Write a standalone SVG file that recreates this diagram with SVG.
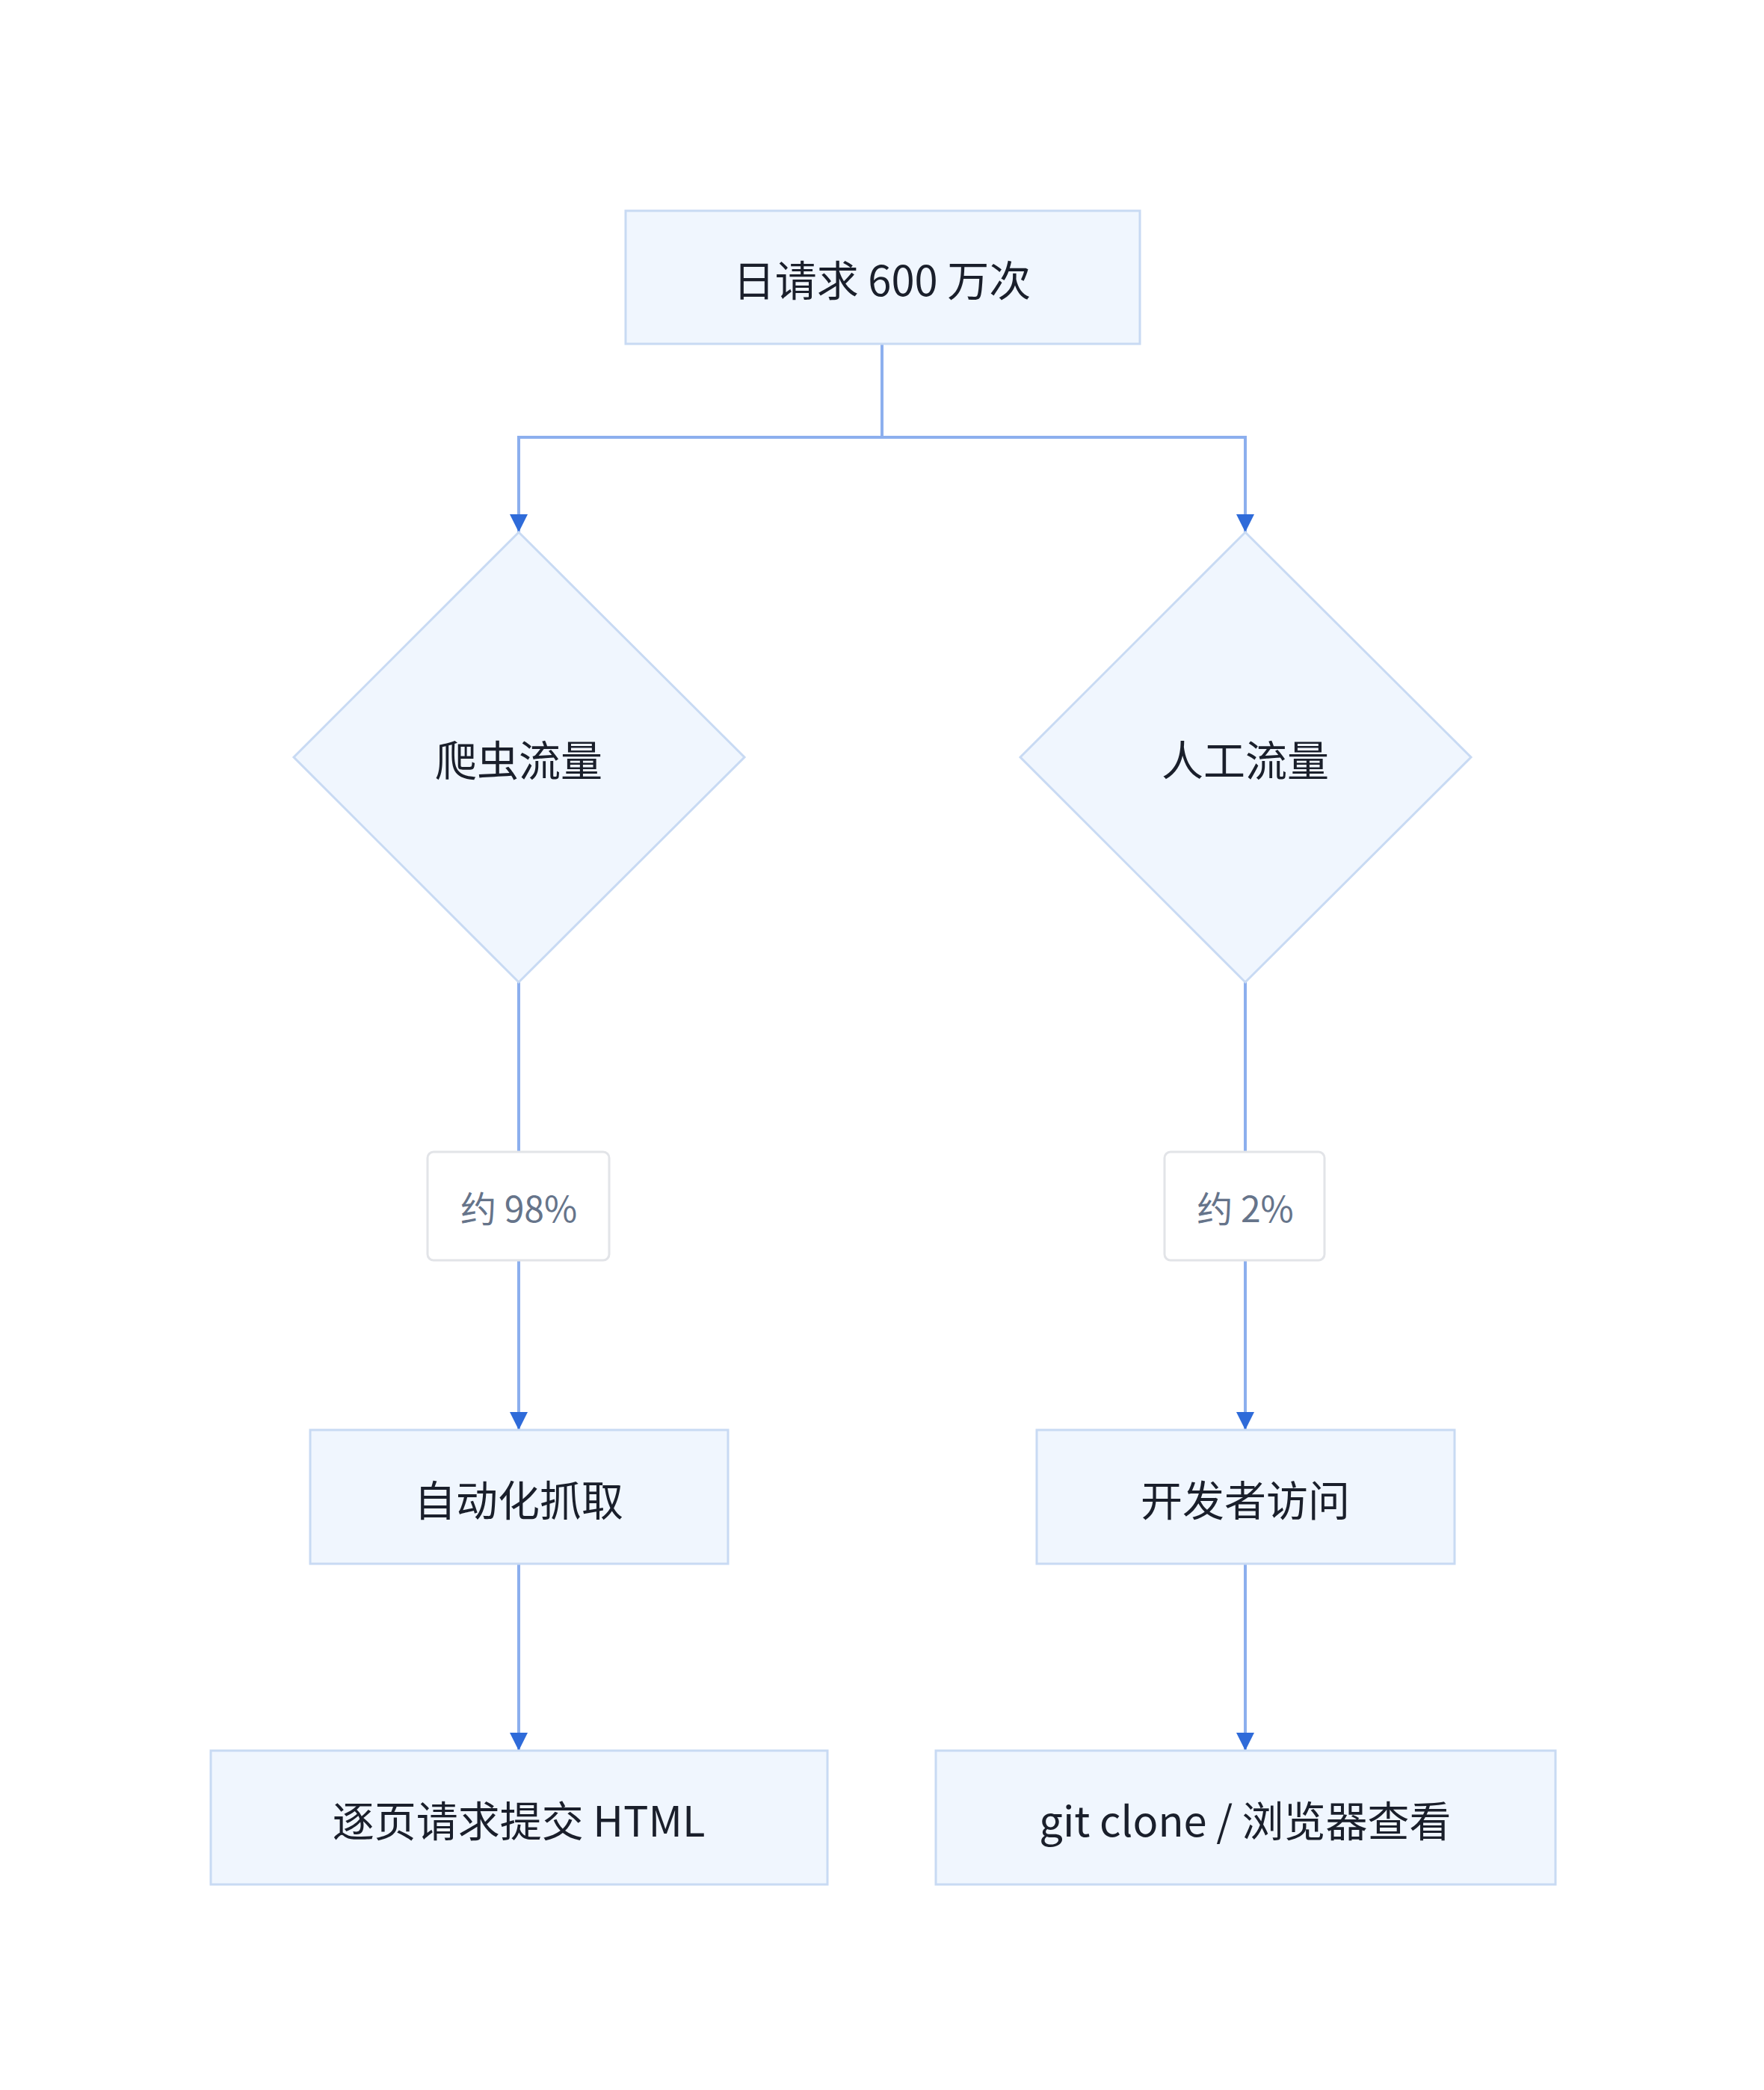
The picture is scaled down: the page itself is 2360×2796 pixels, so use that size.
<svg xmlns="http://www.w3.org/2000/svg" width="2360" height="2796" viewBox="0 0 2360 2796">
<style>
.n{fill:#f0f6fe;stroke:#c8daf3;stroke-width:3}
.t{font-family:"Noto Sans CJK SC","Liberation Sans",sans-serif;font-size:56px;fill:#1a1f2b;text-anchor:middle;dominant-baseline:central}
.l{fill:#fff;stroke:#e2e4e8;stroke-width:3}
.lt{font-family:"Noto Sans CJK SC","Liberation Sans",sans-serif;font-size:48px;fill:#66748a;text-anchor:middle;dominant-baseline:central}
.c{fill:none;stroke:#8cafee;stroke-width:4}
</style>
<defs><marker id="a" viewBox="0 0 10 10" refX="10" refY="5" markerWidth="6" markerHeight="6" markerUnits="strokeWidth" orient="auto"><path d="M0,0L10,5L0,10z" fill="#2f6bd9"/></marker></defs>
<rect width="2360" height="2796" fill="#fff"/>
<g id="connectors">
<path class="c" d="M1180,460V585H694V712" marker-end="url(#a)"/>
<path class="c" d="M1180,585H1666V712" marker-end="url(#a)"/>
<path class="c" d="M694,1314V1541"/>
<path class="c" d="M694,1686V1913" marker-end="url(#a)"/>
<path class="c" d="M1666,1314V1541"/>
<path class="c" d="M1666,1686V1913" marker-end="url(#a)"/>
<path class="c" d="M694,2092V2342" marker-end="url(#a)"/>
<path class="c" d="M1666,2092V2342" marker-end="url(#a)"/>
</g>
<g id="n1"><rect class="n" x="837" y="282" width="688" height="178"/><text class="t" x="1180" y="371">日请求 600 万次</text></g>
<g id="n2"><path class="n" d="M694,712L996,1013L694,1314L393,1013Z"/><text class="t" x="694" y="1013">爬虫流量</text></g>
<g id="n3"><path class="n" d="M1666,712L1968,1013L1666,1314L1365,1013Z"/><text class="t" x="1666" y="1013">人工流量</text></g>
<g id="l1"><rect class="l" x="572" y="1541" width="243" height="145" rx="8"/><text class="lt" x="694" y="1614">约 98%</text></g>
<g id="l2"><rect class="l" x="1558" y="1541" width="214" height="145" rx="8"/><text class="lt" x="1666" y="1614">约 2%</text></g>
<g id="n4"><rect class="n" x="415" y="1913" width="559" height="179"/><text class="t" x="694" y="2003">自动化抓取</text></g>
<g id="n5"><rect class="n" x="1387" y="1913" width="559" height="179"/><text class="t" x="1666" y="2003">开发者访问</text></g>
<g id="n6"><rect class="n" x="282" y="2342" width="825" height="179"/><text class="t" x="694" y="2432">逐页请求提交 HTML</text></g>
<g id="n7"><rect class="n" x="1252" y="2342" width="829" height="179"/><text class="t" x="1666" y="2432">git clone / 浏览器查看</text></g>
</svg>
